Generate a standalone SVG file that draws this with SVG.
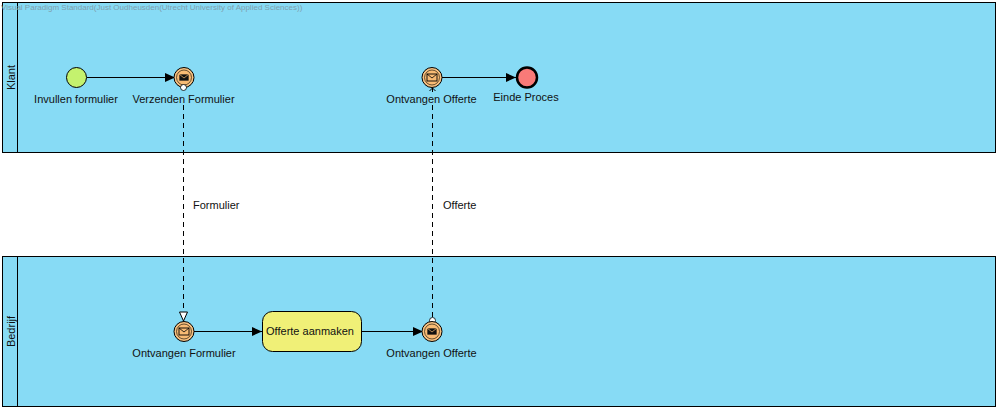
<svg xmlns="http://www.w3.org/2000/svg" width="999" height="410" viewBox="0 0 999 410">
<style>
text{font-family:"Liberation Sans",Arial,sans-serif;font-size:11px;fill:#111}
.m{text-anchor:middle}
.pool{fill:#87dbf5;stroke:#000;stroke-width:1}
.ln{fill:none;stroke:#000;stroke-width:1}
.flow{fill:none;stroke:#000;stroke-width:1;stroke-dasharray:5 4}
.ev{fill:#f8c282;stroke:#000;stroke-width:1}
.evi{fill:#f8bb74;stroke:#2a2010;stroke-width:.7}
.env{fill:#f8bb74;stroke:#000;stroke-width:.9}
.envd{fill:#111;stroke:#f8bb74;stroke-width:.7}
</style>
<defs>
<marker id="a" markerUnits="userSpaceOnUse" markerWidth="11" markerHeight="10" refX="10" refY="4.500" orient="auto"><path d="M0 0L10 4.500L0 9Z" fill="#000"/></marker>
</defs>
<rect width="999" height="410" fill="#fff"/>
<g id="pool-klant"><rect class="pool" x="2.500" y="2.500" width="993" height="150"/><path class="ln" d="M17.500 2.500V152.500"/><text transform="translate(15 77.500) rotate(-90)" class="m">Klant</text></g>
<g id="pool-bedrijf"><rect class="pool" x="2.500" y="256.500" width="993" height="150"/><path class="ln" d="M17.500 256.500V406.500"/><text transform="translate(15 331.500) rotate(-90)" class="m">Bedrijf</text></g>
<text x="1" y="9.500" style="font-size:8px;fill:#7f9fae">Visual Paradigm Standard(Just Oudheusden(Utrecht University of Applied Sciences))</text>
<g id="connectors">
<path class="ln" d="M87 77.500H175" marker-end="url(#a)"/>
<path class="ln" d="M442 77.500H516" marker-end="url(#a)"/>
<path class="ln" d="M194 331.500H262" marker-end="url(#a)"/>
<path class="ln" d="M361 331.500H423" marker-end="url(#a)"/>
<path class="flow" d="M183.500 105V312"/>
<path d="M179.500 312H187.500L183.500 321Z" fill="#fff" stroke="#000"/>
<path class="flow" d="M432.500 105V317"/>
<path class="ln" d="M432.500 88V92M429.500 91L432.500 88L435.500 91"/>
<circle cx="432.500" cy="320.500" r="3" fill="#fff" stroke="#000" stroke-width=".8"/>
<text x="193" y="209">Formulier</text>
<text x="443" y="209">Offerte</text>
</g>
<g id="start"><circle cx="76.500" cy="77.500" r="10" fill="#c4f26e" stroke="#000"/><text x="76" y="103" class="m">Invullen formulier</text></g>
<g id="verzenden"><circle class="ev" cx="184" cy="77.500" r="10"/><circle class="evi" cx="184" cy="77.500" r="7.500"/><rect class="envd" x="179" y="74" width="10" height="7"/><path d="M179 74L184 78L189 74" fill="none" stroke="#f8bb74" stroke-width=".7"/><circle cx="183.500" cy="87.500" r="3" fill="#fff" stroke="#000" stroke-width=".8"/><text x="183.500" y="103" class="m">Verzenden Formulier</text></g>
<g id="ontvangen-offerte-klant"><circle class="ev" cx="432" cy="77.500" r="10"/><circle class="evi" cx="432" cy="77.500" r="7.500"/><rect class="env" x="427" y="74" width="10" height="7"/><path d="M427 74L432 78L437 74" fill="none" stroke="#000" stroke-width=".8"/><text x="431.500" y="103" class="m">Ontvangen Offerte</text></g>
<g id="einde"><circle cx="527" cy="77.500" r="10" fill="#f97a78" stroke="#000" stroke-width="2.500"/><text x="526" y="101" class="m">Einde Proces</text></g>
<g id="ontvangen-formulier"><circle class="ev" cx="184" cy="331.500" r="10"/><circle class="evi" cx="184" cy="331.500" r="7.500"/><rect class="env" x="179" y="328" width="10" height="7"/><path d="M179 328L184 332L189 328" fill="none" stroke="#000" stroke-width=".8"/><text x="184" y="357" class="m">Ontvangen Formulier</text></g>
<g id="offerte-aanmaken"><rect x="262.500" y="311.500" width="99" height="40" rx="10" fill="#f0f077" stroke="#000"/><text x="310" y="335" class="m">Offerte aanmaken</text></g>
<g id="ontvangen-offerte-bedrijf"><circle class="ev" cx="432" cy="331.500" r="10"/><circle class="evi" cx="432" cy="331.500" r="7.500"/><rect class="envd" x="427" y="328" width="10" height="7"/><path d="M427 328L432 332L437 328" fill="none" stroke="#f8bb74" stroke-width=".7"/><text x="431.500" y="357" class="m">Ontvangen Offerte</text></g>
</svg>
